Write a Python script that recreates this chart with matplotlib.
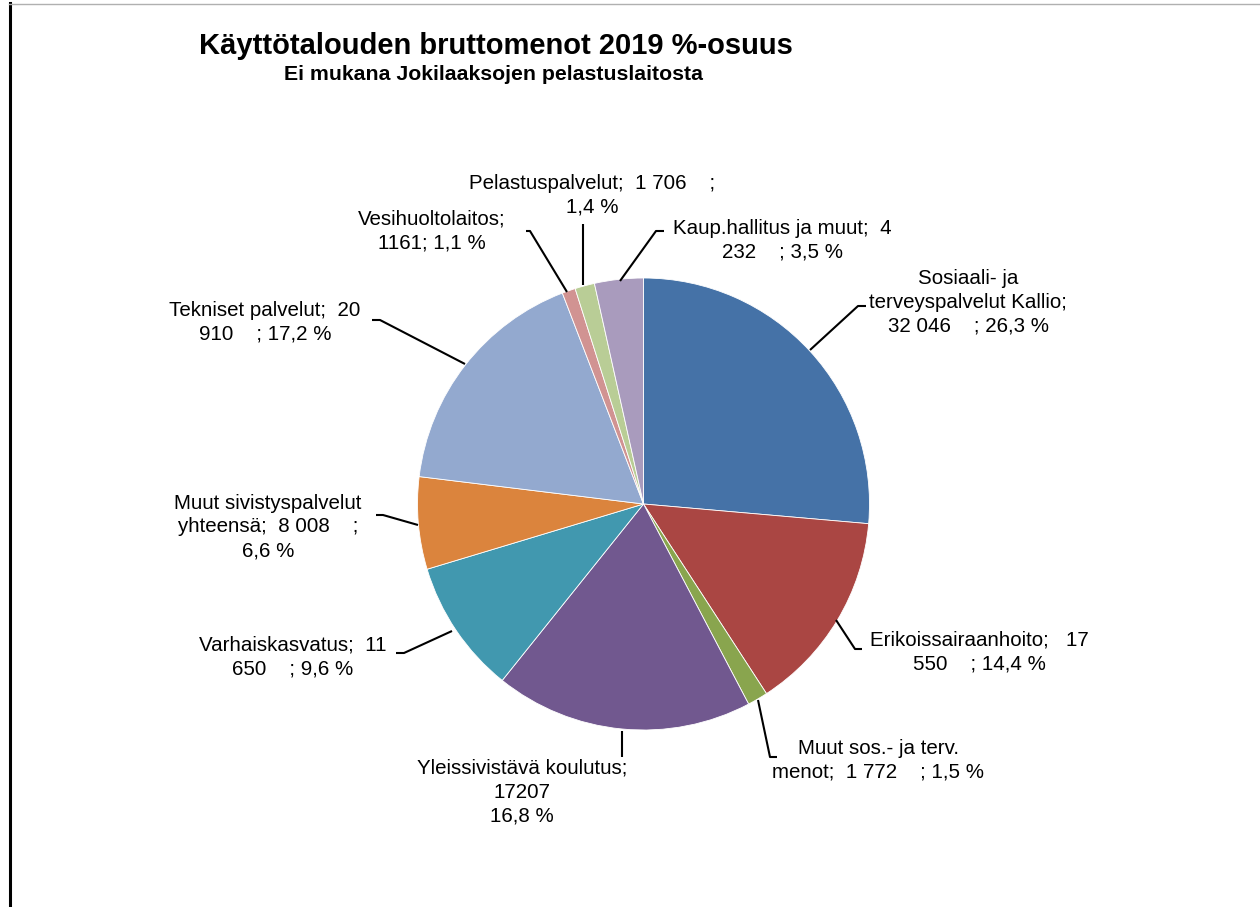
import matplotlib
matplotlib.use("Agg")
import matplotlib.pyplot as plt
from matplotlib.lines import Line2D

plt.rcParams['font.family'] = ['Liberation Sans', 'DejaVu Sans']

categories = ["Sosiaali- ja terveyspalvelut Kallio", "Erikoissairaanhoito",
              "Muut sos.- ja terv. menot", "Yleissivistävä koulutus",
              "Varhaiskasvatus", "Muut sivistyspalvelut yhteensä",
              "Tekniset palvelut", "Vesihuoltolaitos", "Pelastuspalvelut",
              "Kaup.hallitus ja muut"]
# slice sizes (1000 €)
values = [32046, 17550, 1772, 22400, 11650, 8008, 20910, 1161, 1706, 4232]
colors = ["#4572A7", "#AA4643", "#89A54E", "#71588F", "#4198AF",
          "#DB843D", "#93A9CF", "#D19392", "#B9CD96", "#A99BBD"]
label_texts = [
    "Sosiaali- ja\nterveyspalvelut Kallio;\n32 046    ; 26,3 %",
    "Erikoissairaanhoito;   17\n550    ; 14,4 %",
    "Muut sos.- ja terv.\nmenot;  1 772    ; 1,5 %",
    "Yleissivistävä koulutus;\n17207\n16,8 %",
    "Varhaiskasvatus;  11\n650    ; 9,6 %",
    "Muut sivistyspalvelut\nyhteensä;  8 008    ;\n6,6 %",
    "Tekniset palvelut;  20\n910    ; 17,2 %",
    "Vesihuoltolaitos;\n1161; 1,1 %",
    "Pelastuspalvelut;  1 706    ;\n1,4 %",
    "Kaup.hallitus ja muut;  4\n232    ; 3,5 %",
]
title = "Käyttötalouden bruttomenot 2019 %-osuus"
subtitle = "Ei mukana Jokilaaksojen pelastuslaitosta"

W, H = 1260, 907
fig = plt.figure(figsize=(W / 100, H / 100), dpi=100)
ax = fig.add_axes([0, 0, 1, 1])

cx, cy, R = 643.5, H - 504, 226
ax.pie(values, colors=colors, startangle=90, counterclock=False,
       center=(cx, cy), radius=R, frame=True,
       wedgeprops=dict(linewidth=0.6, edgecolor="white"))
ax.set_xlim(0, W)
ax.set_ylim(0, H)
ax.set_aspect("auto")
ax.axis("off")

def py(y):
    return H - y

# label positions (pixel coords: x, y of text center)
label_pos = [
    (968, 302),
    (979, 652),
    (878, 760),
    (522, 792),
    (293, 657),
    (268, 527),
    (265, 322),
    (432, 231),
    (592, 195),
    (782, 240),
]
for txt, (x, y) in zip(label_texts, label_pos):
    ax.text(x, py(y), txt, ha="center", va="center", fontsize=14.8,
            linespacing=1.33, color="black")

# leader lines (pixel coords)
leaders = [
    [(810, 350), (858, 306), (866, 306)],
    [(836, 620), (855, 649), (862, 649)],
    [(758, 700), (770, 757), (777, 757)],
    [(622, 731), (622, 757)],
    [(452, 631), (404, 653), (396, 653)],
    [(418, 525), (383, 515), (376, 515)],
    [(465, 364), (380, 320), (372, 320)],
    [(567, 292), (530, 231), (526, 231)],
    [(583, 285), (583, 224)],
    [(620, 281), (656, 231), (664, 231)],
]
for pts in leaders:
    xs = [p[0] for p in pts]
    ys = [py(p[1]) for p in pts]
    ax.plot(xs, ys, color="black", linewidth=1.5, solid_capstyle="butt")

ax.text(496, py(46), title, ha="center", va="center", fontsize=21,
        fontweight="bold")
ax.text(494, py(75), subtitle, ha="center", va="center", fontsize=15.3,
        fontweight="bold")

# frame lines
fig.add_artist(Line2D([9.5 / W, 9.5 / W], [0, 1 - 3 / H], color="black",
                      linewidth=2.2, transform=fig.transFigure))
fig.add_artist(Line2D([9 / W, 1], [1 - 4 / H, 1 - 4 / H], color="#b0b0b0",
                      linewidth=1, transform=fig.transFigure))

fig.savefig("out.png", dpi=100, facecolor="white")
